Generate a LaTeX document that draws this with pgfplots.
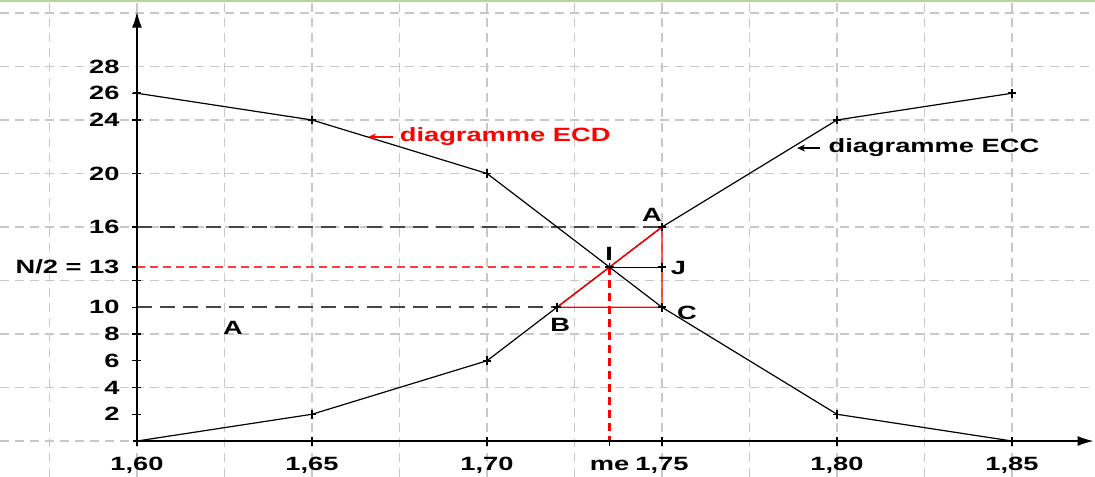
\documentclass[border=0pt]{standalone}
\usepackage{fontspec}
\setmainfont{Liberation Sans}[FakeStretch=1.42]
\usepackage{pgfplots}
\pgfplotsset{compat=1.18}
\usetikzlibrary{arrows.meta}
\definecolor{gridgray}{RGB}{200,200,200}
\definecolor{dashdark}{RGB}{70,70,70}
\definecolor{redl}{RGB}{255,60,60}
\definecolor{topgreen}{RGB}{180,215,155}
\begin{document}
\begin{tikzpicture}
\begin{axis}[
  width=547.5pt, height=238.5pt, scale only axis,
  xmin=-3.914, xmax=27.371, ymin=-2.69, ymax=32.97,
  axis lines=middle,
  axis line style={draw=none},
  hide obscured x ticks=false,
  hide obscured y ticks=false,
  x filter/.expression={100*(x-1.6)},
  xtick={0,5,10,13.5,15,20,25},
  xticklabels={{1,60},{1,65},{1,70},{me},{1,75},{1,80},{1,85}},
  ytick={2,4,6,8,10,12,13,16,20,24,26},
  yticklabels={2,4,6,8,10,,{N/2 = 13},16,20,24,26},
  extra y ticks={28}, extra y tick labels={28},
  extra y tick style={major tick style={draw=none}},
  minor xtick={-2.5,0,...,25}, minor ytick={0,4,...,32},
  grid=minor,
  minor grid style={gridgray, dash pattern=on 4.5pt off 3pt, line width=0.7pt},
  minor tick length=0pt,
  major tick length=4.5pt,
  tick align=center,
  tick style={black, line width=0.7pt},
  ticklabel style={font=\bfseries\fontsize{9.6}{11}\selectfont},
  yticklabel style={xshift=-3pt},
  xticklabel style={yshift=-2pt, text height=0.72em, text depth=0.15em},
  clip=false,
]
% reference dashed lines
\addplot[dashdark, dash pattern=on 7.5pt off 4pt, line width=0.75pt] coordinates {(1.60,16) (1.75,16)};
\addplot[dashdark, dash pattern=on 7.5pt off 4pt, line width=0.75pt] coordinates {(1.60,10) (1.72,10)};
\addplot[redl, dash pattern=on 4pt off 2.5pt, line width=0.8pt] coordinates {(1.60,13) (1.735,13)};
\addplot[red, dash pattern=on 4pt off 2.5pt, line width=1.1pt] coordinates {(1.735,13) (1.735,0)};
% ECC
\addplot[black, line width=0.6pt, mark=+, mark size=2.2pt, mark options={line width=0.75pt}] coordinates {(1.60,0) (1.65,2) (1.70,6) (1.72,10) (1.75,16) (1.80,24) (1.85,26)};
% ECD
\addplot[black, line width=0.6pt, mark=+, mark size=2.2pt, mark options={line width=0.75pt}] coordinates {(1.60,26) (1.65,24) (1.70,20) (1.75,10) (1.80,2) (1.85,0)};
% I - J
\addplot[black, line width=0.6pt] coordinates {(1.735,13) (1.75,13)};
% red triangle
\addplot[red, line width=0.7pt] coordinates {(1.72,10) (1.75,16) (1.75,10) (1.72,10)};
% marks on top
\addplot[black, only marks, mark=+, mark size=2.2pt, mark options={line width=0.75pt}] coordinates {(1.72,10) (1.735,13) (1.75,13) (1.75,16) (1.75,10)};
% axes
\draw[line width=0.8pt, -{Latex[length=8pt,width=5pt]}] (axis cs:0,0) -- (axis cs:27.33,0);
\draw[line width=0.8pt, -{Latex[length=8pt,width=5pt]}] (axis cs:0,0) -- (axis cs:0,32.1);
% labels
\begin{scope}[font=\bfseries\fontsize{9.6}{11}\selectfont]
\node at (axis cs:2.74,8.45) {A};
\node at (axis cs:14.71,16.9) {A};
\node at (axis cs:13.49,14.0) {I};
\node at (axis cs:15.47,12.93) {J};
\node at (axis cs:12.09,8.67) {B};
\node at (axis cs:15.71,9.57) {C};
\node[red, anchor=west, inner sep=0pt] at (axis cs:7.5,22.73) {diagramme ECD};
\draw[red, line width=0.6pt, -{Stealth[length=4pt,width=3.5pt]}] (axis cs:7.31,22.73) -- (axis cs:6.6,22.73);
\node[black, anchor=west, inner sep=0pt] at (axis cs:19.75,21.9) {diagramme ECC};
\draw[black, line width=0.6pt, -{Stealth[length=4pt,width=3.5pt]}] (axis cs:19.51,21.9) -- (axis cs:18.86,21.9);
\end{scope}
\draw[topgreen, line width=1.5pt] (rel axis cs:0,0.9985) -- (rel axis cs:1,0.9985);
\end{axis}
\pgfresetboundingbox
\useasboundingbox (current axis.south west) rectangle (current axis.north east);
\end{tikzpicture}
\end{document}
